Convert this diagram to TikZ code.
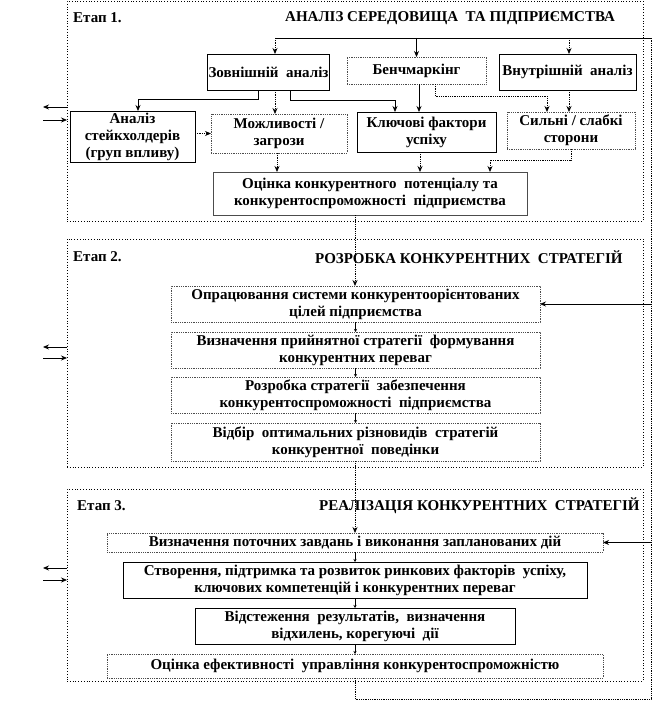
\documentclass[tikz,border=0pt]{standalone}
\usepackage{fontspec}
\setmainfont{Liberation Serif}
\usepackage{tikz}
\usetikzlibrary{arrows.meta, positioning, calc}

\begin{document}
\begin{tikzpicture}[
  x=1pt, y=-1pt,
  font=\fontsize{15}{17}\selectfont\bfseries,
  stage/.style={draw, dotted, line width=0.8pt, inner sep=0pt, outer sep=0pt},
  box/.style={draw, line width=0.8pt, align=center, inner sep=1pt, outer sep=0pt},
  dbox/.style={box, densely dotted, draw=black!70},
  label/.style={anchor=west, inner sep=0pt},
  arr/.style={-{Stealth[length=6pt,width=5pt]}, line width=0.8pt},
  darr/.style={arr, densely dotted},
  tiny/.style={-{Stealth[length=3pt,width=3pt]}, line width=0.6pt},
  dline/.style={densely dotted, line width=0.8pt},
  sline/.style={line width=0.8pt},
]
\useasboundingbox (0,0) rectangle (652,701);

% Stage frames
\node[stage, minimum width=576, minimum height=220] (st1) at (355,111) {};
\node[stage, minimum width=576, minimum height=228] (st2) at (355,353) {};
\node[stage, minimum width=576, minimum height=192] (st3) at (355,585) {};

% Stage 1
\node[label] (lab1) at (73,18)  {Етап 1.};
\node[label] (tit1) at (285,18) {АНАЛІЗ СЕРЕДОВИЩА\ \ ТА ПІДПРИЄМСТВА};
\node[box,  minimum width=121, minimum height=36] (ext)   at (268.5,72)  {Зовнішній\ \ аналіз};
\node[dbox, minimum width=139, minimum height=27] (bench) at (416.5,70.5) {Бенчмаркінг};
\node[box,  minimum width=137, minimum height=36] (int)   at (567.5,72)  {Внутрішній\ \ аналіз};
\node[box,  minimum width=125, minimum height=51] (stake) at (132.5,136.5) {Аналіз\\стейкхолдерів\\(груп впливу)};
\node[dbox, minimum width=136, minimum height=39] (opp)   at (279,133.5) {Можливості /\\загрози};
\node[box,  minimum width=139, minimum height=40] (ksf)   at (426.5,132) {Ключові фактори\\успіху};
\node[dbox, minimum width=128, minimum height=37] (sw)    at (571,130.5) {Сильні / слабкі\\сторони};
\node[box,  minimum width=314, minimum height=43, draw=black!70] (eval) at (370,193.5)
  {Оцінка конкурентного\ \ потенціалу та\\конкурентоспроможності\ \ підприємства};

% Stage 2
\node[label] (lab2) at (73,257)  {Етап 2.};
\node[label] (tit2) at (315,257) {РОЗРОБКА КОНКУРЕНТНИХ\ \ СТРАТЕГІЙ};
\node[dbox, minimum width=369, minimum height=36] (s2a) at (355.5,304) {Опрацювання системи конкурентоорієнтованих\\цілей підприємства};
\node[dbox, minimum width=369, minimum height=36] (s2b) at (355.5,350) {Визначення прийнятної стратегії\ \ формування\\конкурентних переваг};
\node[dbox, minimum width=369, minimum height=36] (s2c) at (355.5,395) {Розробка стратегії\ \ забезпечення\\конкурентоспроможності\ \ підприємства};
\node[dbox, minimum width=369, minimum height=38] (s2d) at (355.5,442) {Відбір\ \ оптимальних різновидів\ \ стратегій\\конкурентної\ \ поведінки};

% Stage 3
\node[label] (lab3) at (77,506)  {Етап 3.};
\node[label] (tit3) at (319,506) {РЕАЛІЗАЦІЯ КОНКУРЕНТНИХ\ \ СТРАТЕГІЙ};
\node[dbox, minimum width=496, minimum height=19] (s3a) at (355,542.5) {Визначення поточних завдань і виконання запланованих дій};
\node[box,  minimum width=464, minimum height=36] (s3b) at (355,580) {Створення, підтримка та розвиток ринкових факторів\ \ успіху,\\ключових компетенцій і конкурентних переваг};
\node[box,  minimum width=320, minimum height=36] (s3c) at (355,626) {Відстеження\ \ результатів,\ \ визначення\\відхилень, корегуючі\ \ дії};
\node[dbox, minimum width=496, minimum height=24] (s3d) at (355,666) {Оцінка ефективності\ \ управління конкурентоспроможністю};

% Feedback loop
\coordinate (rb) at (651,699);
\coordinate (rt) at (651,38);
\coordinate (lt) at (275,38);
\coordinate (it) at (569,38);
\draw[dline] (s3d.south) |- (rb) -- (rt);
\draw[sline] (rt) -- (lt);
\draw[darr] (lt) -- (lt |- ext.north);
\draw[arr]  (bench.north |- rt) -- (bench);
\draw[darr] (it) -- (it |- int.north);
\draw[arr]  (rb |- s2a) -- (s2a);
\draw[arr]  (rb |- s3a) -- (s3a);

% Stage 1 edges
\draw[arr]  (ext.south -| 258,0) |- (138,99) -- (stake.north -| 138,0);
\draw[darr] (ext.south -| 275,0) -- (opp.north -| 275,0);
\draw[arr]  (ext.south -| 290,0) |- (395,100) -- (ksf.north -| 395,0);
\draw[arr]  (bench.south -| 419,0) -- (ksf.north -| 419,0);
\draw[darr] (bench.south -| 435,0) |- (547,96) -- (sw.north -| 547,0);
\draw[darr] (int.south -| 569,0) -- (sw.north -| 569,0);
\draw[darr] (stake.east |- opp) -- (opp);
\draw[darr] (opp.south -| 277,0) -- (eval.north -| 277,0);
\draw[darr] (ksf.south -| 420,0) -- (eval.north -| 420,0);
\draw[darr] (sw.south -| 571,0) |- (490,160) -- (eval.north -| 490,0);

% Between stages
\draw[darr] (eval.south -| 355,0) -- (s2a.north -| 355,0);
\draw[darr] (s2d.south -| 355,0) -- (s3a.north -| 355,0);

% Inside stages 2 and 3
\draw[tiny] (s2a) -- (s2b);
\draw[tiny] (s2b) -- (s2c);
\draw[tiny] (s2c) -- (s2d);
\draw[tiny] (s3a) -- (s3b);
\draw[tiny] (s3b) -- (s3c);
\draw[tiny] (s3c) -- (s3d);

% Links to the left
\coordinate (o1) at (43,107);  \coordinate (i1) at (43,120);
\coordinate (o2) at (43,347);  \coordinate (i2) at (43,358);
\coordinate (o3) at (43,568);  \coordinate (i3) at (43,580);
\draw[arr] (st1.west |- o1) -- (o1);
\draw[arr] (i1) -- (st1.west |- i1);
\draw[arr] (st2.west |- o2) -- (o2);
\draw[arr] (i2) -- (st2.west |- i2);
\draw[arr] (st3.west |- o3) -- (o3);
\draw[arr] (i3) -- (st3.west |- i3);

\end{tikzpicture}
\end{document}
